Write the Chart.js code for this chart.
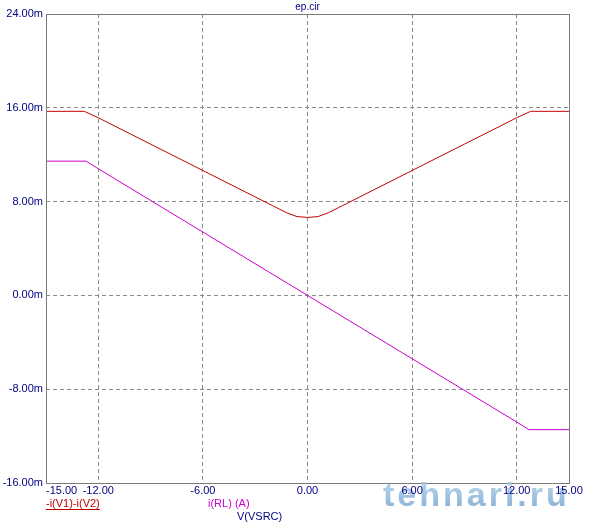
<!DOCTYPE html>
<html>
<head>
<meta charset="utf-8">
<script src="https://cdn.jsdelivr.net/npm/chart.js@4/dist/chart.umd.min.js"></script>
<style>
html,body{margin:0;padding:0;background:#fff;}
canvas{display:block;}
</style>
</head>
<body>
<canvas id="c" width="598" height="532"></canvas>
<script>
// ---- data ----
const chartTitle = "ep.cir";
const xTickValues = [-15, -12, -6, 0, 6, 12, 15];
const yTickValues = [24, 16, 8, 0, -8, -16];

// -i(V1)-i(V2)  (mA, x = V(VSRC))
const redX = [-15, -12.8, -12, -9, -6, -3, -2, -1.2, -0.6, 0, 0.6, 1.2, 2, 3, 6, 9, 12, 12.8, 15];
const redY = [15.7, 15.7, 15.15, 12.9, 10.65, 8.4, 7.65, 7.05, 6.72, 6.65, 6.72, 7.05, 7.65, 8.4, 10.65, 12.9, 15.15, 15.7, 15.7];

// i(RL) (A)  (mA)
const magX = [-15, -12.7, -12, -6, 0, 6, 12, 12.7, 15];
const magY = [11.45, 11.45, 10.8, 5.4, 0, -5.4, -10.8, -11.45, -11.45];

const legendRed = "-i(V1)-i(V2)";
const legendMag = "i(RL) (A)";
const xAxisName = "V(VSRC)";
const watermark = "tehnari.ru";

const toPts = (xs, ys) => xs.map((x, i) => ({x: x, y: ys[i]}));

const FONT = "11px 'Liberation Sans', Arial, sans-serif";
const NAVY = "#000080";
const GRID = "#8a8a8a";

const decor = {
  id: 'decor',
  afterDraw(chart) {
    const ctx = chart.ctx;
    const a = chart.chartArea;
    const xs = chart.scales.x;
    ctx.save();
    // frame
    ctx.strokeStyle = "#7a7a7a";
    ctx.lineWidth = 1;
    ctx.setLineDash([]);
    ctx.strokeRect(Math.round(a.left) + 0.5, Math.round(a.top) + 0.5,
                   Math.round(a.right - a.left), Math.round(a.bottom - a.top));
    // watermark (under the tick labels)
    ctx.font = "bold 34px 'Liberation Sans', Arial, sans-serif";
    try { ctx.letterSpacing = "3px"; } catch (e) {}
    const g = ctx.createLinearGradient(0, 480, 0, 508);
    g.addColorStop(0, "rgba(170,205,232,0.8)");
    g.addColorStop(1, "rgba(110,160,205,0.8)");
    ctx.fillStyle = g;
    ctx.textAlign = "left";
    ctx.textBaseline = "alphabetic";
    ctx.fillText(watermark, 383, 506);
    try { ctx.letterSpacing = "0px"; } catch (e) {}
    // title
    ctx.font = "10px 'Liberation Sans', Arial, sans-serif";
    ctx.fillStyle = NAVY;
    ctx.textAlign = "center";
    ctx.textBaseline = "middle";
    ctx.fillText(chartTitle, (a.left + a.right) / 2, 7);
    // x tick labels
    ctx.font = FONT;
    ctx.textBaseline = "middle";
    xTickValues.forEach(v => {
      const px = xs.getPixelForValue(v);
      const txt = v.toFixed(2);
      ctx.textAlign = (v === xTickValues[0]) ? "left" : "center";
      ctx.fillText(txt, px, 491);
    });
    // legend
    ctx.textAlign = "left";
    ctx.fillStyle = "#c00000";
    ctx.fillText(legendRed, a.left, 504);
    const w = ctx.measureText(legendRed).width;
    ctx.fillRect(a.left, 509, w, 1);
    ctx.fillStyle = "#cc00cc";
    ctx.fillText(legendMag, 208, 504);
    ctx.fillStyle = NAVY;
    ctx.fillText(xAxisName, 237, 517);
    ctx.restore();
  }
};

new Chart(document.getElementById('c'), {
  type: 'scatter',
  data: {
    datasets: [
      { label: legendRed, data: toPts(redX, redY), showLine: true, borderColor: "#c00000",
        borderWidth: 1, pointRadius: 0, tension: 0, fill: false },
      { label: legendMag, data: toPts(magX, magY), showLine: true, borderColor: "#cc00cc",
        borderWidth: 1, pointRadius: 0, tension: 0, fill: false }
    ]
  },
  options: {
    responsive: false,
    animation: false,
    devicePixelRatio: 1,
    layout: { padding: { top: 14, right: 29, left: 0, bottom: 0 } },
    plugins: { legend: { display: false }, title: { display: false }, tooltip: { enabled: false } },
    scales: {
      x: {
        type: 'linear', min: -15, max: 15,
        afterBuildTicks: s => { s.ticks = xTickValues.map(v => ({ value: v })); },
        afterFit: s => { s.height = 49; },
        ticks: { display: false },
        grid: { color: GRID, lineWidth: 1, drawTicks: false },
        border: { display: false, dash: [4, 3] }
      },
      y: {
        type: 'linear', min: -16, max: 24,
        afterBuildTicks: s => { s.ticks = yTickValues.map(v => ({ value: v })); },
        afterFit: s => { s.width = 46; },
        ticks: { color: NAVY, font: { family: "'Liberation Sans', Arial, sans-serif", size: 11 },
                 padding: 3, callback: v => v.toFixed(2) + "m" },
        grid: { color: GRID, lineWidth: 1, drawTicks: false },
        border: { display: false, dash: [4, 3] }
      }
    }
  },
  plugins: [decor]
});
</script>
</body>
</html>
